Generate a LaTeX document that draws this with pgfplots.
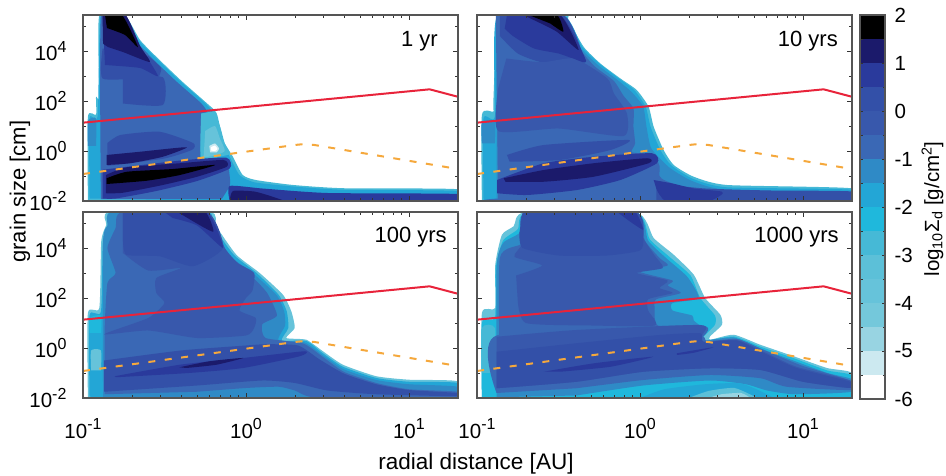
\documentclass[border=0pt]{standalone}
\usepackage{pgfplots}
\pgfplotsset{compat=1.18}
\usepackage{fontspec}
\setmainfont{Liberation Sans}
\definecolor{c15}{HTML}{000000}
\definecolor{c14}{HTML}{1B1A6B}
\definecolor{c13}{HTML}{2A3A9C}
\definecolor{c12}{HTML}{3350A8}
\definecolor{c11}{HTML}{3858AC}
\definecolor{c10}{HTML}{3A68B5}
\definecolor{c9}{HTML}{2F8AC6}
\definecolor{c8}{HTML}{23A6D6}
\definecolor{c7}{HTML}{1FB8DC}
\definecolor{c6}{HTML}{46B9D6}
\definecolor{c5}{HTML}{5CC0D8}
\definecolor{c4}{HTML}{66C3DA}
\definecolor{c3}{HTML}{74C8DB}
\definecolor{c2}{HTML}{98D4E2}
\definecolor{c1}{HTML}{CCE9F0}
\definecolor{framec}{HTML}{555555}
\definecolor{redl}{HTML}{E8233A}
\definecolor{orl}{HTML}{F5A83C}
\newcommand{\poly}[2]{\addplot[fill=#1,draw=none,forget plot,smooth,tension=0.35] coordinates {#2} --cycle;}
\newcommand{\curves}{%
\addplot[redl,line width=2pt,forget plot] coordinates {(-1,1.133)(1.127,2.467)(1.3,2.17)};
\addplot[orl,line width=2pt,dash pattern=on 7pt off 9.5pt,forget plot] coordinates {(-1,-0.92)(0.30,0.24)(0.36,0.28)(0.42,0.24)(1.3,-0.72)};
}
\newcommand{\sptxt}[1]{\raisebox{0.42em}{\fontsize{16}{16}\selectfont #1}}
\pgfplotsset{
 panel/.style={
  scale only axis,width=375pt,height=186pt,anchor=south west,
  xmin=-1,xmax=1.301,ymin=-2,ymax=5.44,
  axis on top,
  axis line style={framec,line width=1.1pt},
  tick style={black!80,line width=0.7pt},
  major tick length=5pt,minor tick length=3pt,
  tick align=inside,
  xtick={-1,0,1},
  minor xtick={-0.699,-0.523,-0.398,-0.301,-0.222,-0.155,-0.097,-0.046,0.301,0.477,0.602,0.699,0.778,0.845,0.903,0.954,1.301},
  ytick={-2,0,2,4},
  minor ytick={-1,1,3,5},
  xticklabels={10\sptxt{-1},10\sptxt{0},10\sptxt{1}},
  yticklabels={10\sptxt{-2},10\sptxt{0},10\sptxt{2},10\sptxt{4}},
  tick label style={font=\fontsize{20.5}{24}\selectfont},
  label style={font=\fontsize{22.5}{26}\selectfont},
  xticklabel style={yshift=-17pt},
  yticklabel style={xshift=-13pt},
 },
 noxl/.style={xticklabels={}},
 noyl/.style={yticklabels={}},
}
\newcommand{\plabel}[3]{\node[anchor=east,inner sep=0pt,font=\fontsize{22}{26}\selectfont] at (axis cs:#1,#2) {#3};}
\begin{document}
\begin{tikzpicture}[x=1pt,y=1pt]
\useasboundingbox (0,0) rectangle (946,476);
% ---------- 1 yr
\begin{axis}[panel,noxl,at={(83pt,275pt)},
  ylabel={grain size [cm]},y label style={at={(axis description cs:-0.168,0.05)},anchor=center,font=\fontsize{22}{26}\selectfont}]
\poly{c6}{(-0.97,-2)(-0.97,1.37)(-0.92,1.45)(-0.92,2.17)(-0.90,2.2)(-0.90,5.44)(-0.745,5.44)(-0.65,4.44)(-0.53,3.64)(-0.39,2.77)(-0.24,1.91)(-0.18,1.51)(-0.14,0.44)(-0.08,-0.23)(-0.02,-0.96)(0.06,-1.16)(0.29,-1.36)(0.6,-1.49)(1.3,-1.53)(1.3,-2)}
\poly{c8}{(-0.96,-1.9)(-0.96,1.3)(-0.91,1.4)(-0.89,5.44)(-0.755,5.44)(-0.66,4.44)(-0.54,3.64)(-0.40,2.77)(-0.25,1.91)(-0.20,1.5)(-0.16,0.44)(-0.10,-0.23)(-0.04,-0.96)(0.05,-1.25)(0.29,-1.42)(0.6,-1.55)(1.3,-1.6)(1.3,-2)(-0.1,-2)}
\poly{c9}{(-0.97,0.2)(-0.97,1.2)(-0.92,1.3)(-0.92,0.2)}
\poly{c10}{(-0.89,-1.93)(-0.89,5.44)(-0.775,5.44)(-0.68,4.44)(-0.565,3.64)(-0.425,2.77)(-0.275,1.91)(-0.235,1.5)(-0.27,1.0)(-0.28,0)(-0.27,-0.4)(-0.12,-0.52)(-0.10,-1.0)(-0.1,-1.4)(-0.15,-1.93)}
\poly{c6}{(-0.275,1.5)(-0.2,1.55)(-0.16,1.0)(-0.13,0.3)(-0.10,-0.1)(-0.14,-0.2)(-0.27,-0.3)(-0.28,0.5)}
\poly{c4}{(-0.25,0.8)(-0.19,1.0)(-0.16,0.5)(-0.13,0)(-0.2,-0.2)(-0.26,-0.25)}
\poly{c1}{(-0.225,0.2)(-0.19,0.3)(-0.165,0.1)(-0.18,-0.05)(-0.22,-0.05)}
\poly{white}{(-0.215,0.15)(-0.19,0.22)(-0.175,0.08)(-0.19,0)(-0.215,0.02)}
% top wedge
\poly{c12}{(-0.88,4.1)(-0.88,2.9)(-0.65,2.9)(-0.56,2.7)(-0.52,3.3)(-0.60,3.8)}
\poly{c13}{(-0.88,5.44)(-0.74,5.44)(-0.65,4.2)(-0.54,3.0)(-0.65,3.32)(-0.865,3.44)}
\poly{c14}{(-0.88,5.44)(-0.74,5.44)(-0.65,4.2)(-0.59,3.56)(-0.755,3.96)(-0.847,4.16)(-0.877,4.3)}
\poly{c15}{(-0.865,5.44)(-0.76,5.44)(-0.663,4.16)(-0.742,4.64)(-0.853,4.92)}
\poly{c12}{(-0.755,2.92)(-0.51,2.95)(-0.51,1.84)(-0.755,1.9)}
% lower bands
\poly{c12}{(-0.85,0.32)(-0.77,0.64)(-0.53,0.77)(-0.325,0.32)(-0.33,0.05)(-0.5,-0.3)(-0.85,-0.6)}
\poly{c14}{(-0.855,-0.16)(-0.65,-0.03)(-0.364,0.15)(-0.51,-0.23)(-0.71,-0.49)(-0.855,-0.56)}
\poly{c13}{(-0.88,-0.75)(-0.4,-0.38)(-0.12,-0.27)(-0.10,-0.7)(-0.3,-1.2)(-0.55,-1.6)(-0.8,-1.9)(-0.88,-1.9)}
\poly{c14}{(-0.859,-0.96)(-0.73,-0.65)(-0.405,-0.49)(-0.139,-0.36)(-0.118,-0.63)(-0.30,-1.03)(-0.51,-1.36)(-0.755,-1.67)(-0.859,-1.69)}
\poly{c15}{(-0.855,-1.09)(-0.73,-0.83)(-0.448,-0.72)(-0.19,-0.56)(-0.405,-0.96)(-0.61,-1.19)(-0.855,-1.32)}
% right strip
\poly{c13}{(-0.10,-2)(-0.10,-1.4)(0.1,-1.5)(0.5,-1.68)(1.3,-1.72)(1.3,-2)}
\poly{c14}{(-0.10,-2)(-0.08,-1.6)(0.05,-1.62)(0.15,-1.8)(0.24,-2)}
\curves
\plabel{1.178}{4.4}{1 yr}
\end{axis}
% ---------- 10 yrs
\begin{axis}[panel,noxl,noyl,at={(477pt,275pt)}]
\poly{c6}{(-0.97,-2)(-0.97,1.44)(-0.9,1.57)(-0.9,1.9)(-0.88,5.37)(-0.88,5.44)(-0.46,5.44)(-0.44,5.24)(-0.346,4.17)(-0.243,3.5)(-0.12,2.9)(-0.02,2.44)(0.053,1.77)(0.084,0.97)(0.145,0.04)(0.207,-0.56)(0.33,-1.03)(0.534,-1.36)(1.294,-1.49)(1.3,-2)}
\poly{c8}{(-0.96,-1.95)(-0.96,1.3)(-0.89,1.4)(-0.875,5.44)(-0.47,5.44)(-0.355,4.17)(-0.25,3.5)(-0.13,2.9)(-0.035,2.44)(0.035,1.77)(0.065,0.97)(0.125,0.04)(0.19,-0.56)(0.32,-1.1)(0.53,-1.45)(1.3,-1.55)(1.3,-2)(-0.88,-2)}
\poly{c9}{(-0.97,0.3)(-0.97,1.15)(-0.89,1.2)(-0.89,0.3)}
\poly{c9}{(-0.88,5.44)(-0.48,5.44)(-0.37,4.17)(-0.26,3.45)(-0.14,2.85)(-0.05,2.35)(0.02,1.77)(0.04,0.97)(0.07,0.1)(0.18,-0.66)(0.32,-1.2)(0.53,-1.55)(1.3,-1.65)(1.3,-2)(-0.88,-2)}
\poly{c10}{(-0.885,5.44)(-0.49,5.44)(-0.38,4.17)(-0.28,3.4)(-0.16,2.8)(-0.1,2.2)(-0.04,1.7)(-0.04,0.97)(-0.03,0.3)(-0.05,-0.05)(0.08,-0.15)(0.12,-0.6)(0.12,-1.0)(0.16,-1.2)(0.35,-1.6)(0.65,-1.75)(1.3,-1.8)(1.3,-2)(-0.87,-2)(-0.87,-1.9)}
\poly{c12}{(-0.86,5.44)(-0.47,5.44)(-0.36,4.0)(-0.42,3.7)(-0.6,3.55)(-0.75,3.9)(-0.86,4.6)}
\poly{c11}{(-0.82,3.7)(-0.6,3.55)(-0.4,3.7)(-0.2,2.9)(-0.16,2.3)(-0.08,1.5)(-0.1,0.6)(-0.5,0.9)(-0.87,0.8)(-0.87,2.5)}
\poly{c13}{(-0.816,5.44)(-0.49,5.44)(-0.33,3.6)(-0.41,3.7)(-0.5,3.9)(-0.65,4.1)(-0.78,4.6)(-0.83,4.9)}
\poly{c14}{(-0.714,5.44)(-0.49,5.44)(-0.376,4.04)(-0.51,4.77)(-0.652,5.24)}
\poly{c15}{(-0.683,5.44)(-0.51,5.44)(-0.47,4.77)(-0.55,5.1)}
\poly{c12}{(-0.816,-0.16)(-0.59,0.24)(-0.07,0.44)(-0.18,0.04)(-0.49,-0.36)(-0.8,-0.43)}
\poly{c13}{(-0.877,-1.16)(-0.59,-0.49)(-0.284,-0.23)(0.074,-0.09)(0.104,-0.49)(-0.12,-1.16)(-0.386,-1.56)(-0.693,-1.76)(-0.877,-1.69)}
\poly{c14}{(-0.836,-1.09)(-0.59,-0.76)(-0.284,-0.49)(0.043,-0.29)(0.053,-0.49)(-0.284,-1.03)(-0.59,-1.23)(-0.826,-1.23)}
\poly{c12}{(0.1,-1.3)(0.4,-1.5)(0.8,-1.58)(1.3,-1.62)(1.3,-2)(0.1,-2)}
\poly{c13}{(0.084,-1.16)(0.2,-1.3)(0.33,-1.5)(0.5,-1.62)(0.5,-1.75)(0.42,-2)(0.16,-2)(0.1,-1.5)}
\curves
\plabel{1.215}{4.4}{10 yrs}
\end{axis}
% ---------- 100 yrs
\begin{axis}[panel,at={(83pt,78pt)},
  xlabel={radial distance [AU]},x label style={at={(axis description cs:1.048,-0.355)},anchor=center}]
\poly{c4}{(-0.97,-2)(-0.97,1.4)(-0.9,1.6)(-0.888,4.27)(-0.857,4.93)(-0.836,5.44)(-0.223,5.44)(-0.182,4.87)(-0.059,3.73)(0.084,3)(0.227,2.13)(0.278,1.47)(0.299,0.8)(0.247,0.4)(0.37,0.33)(0.472,-0.13)(0.595,-0.67)(0.8,-1.13)(1.004,-1.27)(1.296,-1.33)(1.3,-2)}
\poly{c8}{(-0.96,-1.95)(-0.96,1.3)(-0.89,1.45)(-0.878,4.27)(-0.84,4.93)(-0.82,5.44)(-0.24,5.44)(-0.2,4.87)(-0.075,3.73)(0.065,3)(0.2,2.13)(0.25,1.47)(0.26,0.8)(0.22,0.3)(0.37,0.28)(0.47,-0.2)(0.595,-0.75)(0.8,-1.2)(1.0,-1.35)(1.3,-1.4)(1.3,-2)}
\poly{c7}{(-0.96,0.6)(-0.96,1.2)(-0.89,1.3)(-0.89,0.6)}
\poly{c4}{(-0.95,-0.9)(-0.95,-0.1)(-0.89,-0.1)(-0.89,-0.9)}
\poly{c9}{(-0.877,-1.98)(-0.877,4.2)(-0.85,4.9)(-0.82,5.44)(-0.25,5.44)(-0.21,4.8)(-0.09,3.65)(0.05,2.95)(0.19,2.1)(0.235,1.45)(0.24,0.9)(0.2,0.32)(0.36,0.22)(0.47,-0.28)(0.6,-0.85)(0.8,-1.28)(1.0,-1.45)(1.3,-1.55)(1.3,-2)}
\poly{c10}{(-0.867,-1.85)(-0.867,0.8)(-0.85,2.6)(-0.80,3.0)(-0.85,4.0)(-0.80,4.8)(-0.76,5.44)(-0.255,5.44)(-0.22,4.8)(-0.1,3.6)(0.03,2.9)(0.13,2.2)(0.19,1.3)(0.1,0.95)(0.12,0.4)(0.35,0.18)(0.47,-0.35)(0.6,-0.95)(0.8,-1.4)(1.0,-1.65)(1.3,-1.75)(1.3,-2)(0.45,-2)(0.3,-1.7)(0.2,-1.55)(0,-1.6)(-0.3,-1.75)}
\poly{c11}{(-0.755,5.44)(-0.24,5.44)(-0.13,4.0)(-0.05,3.4)(0.05,3.0)(0.04,2.3)(0,2.0)(-0.04,1.5)(0.06,1.2)(0.05,0.8)(0.0,0.5)(-0.3,0.4)(-0.6,0.7)(-0.87,0.55)(-0.6,1.2)(-0.5,1.8)(-0.55,2.2)(-0.55,2.8)(-0.4,3.2)(-0.6,3.1)(-0.755,3.8)}
\poly{c12}{(-0.755,5.44)(-0.243,5.44)(-0.141,4.0)(-0.325,3.27)(-0.53,3.67)(-0.734,3.73)(-0.755,4.4)}
\poly{c13}{(-0.5,5.44)(-0.24,5.44)(-0.14,4.0)(-0.3,4.9)(-0.45,5.2)}
\poly{c14}{(-0.42,5.44)(-0.25,5.44)(-0.2,4.65)(-0.32,5.05)}
\poly{c12}{(-0.87,-0.5)(-0.4,-0.1)(0,0.1)(0.12,0.15)(0.32,0.1)(0.45,-0.45)(0.6,-1.02)(0.8,-1.45)(1.0,-1.68)(1.3,-1.8)(1.3,-1.93)(0.8,-1.85)(0.5,-1.7)(0.3,-1.4)(0.1,-1.3)(-0.3,-1.5)(-0.87,-1.75)}
\poly{c13}{(-0.806,-1.13)(-0.407,-0.67)(-0.018,-0.4)(0.36,-0.13)(0.33,-0.33)(-0.018,-0.8)(-0.35,-1.0)(-0.795,-1.17)}
\poly{c14}{(-0.407,-0.77)(-0.223,-0.53)(-0.018,-0.4)(-0.182,-0.67)(-0.366,-0.8)}
\curves
\plabel{1.233}{4.44}{100 yrs}
\end{axis}
% ---------- 1000 yrs
\begin{axis}[panel,yticklabels={},at={(477pt,78pt)}]
\poly{c4}{(-0.97,-2)(-0.97,1.4)(-0.888,1.6)(-0.888,3.33)(-0.847,4.53)(-0.775,4.87)(-0.703,5.44)(-0.029,5.44)(0.084,4.4)(0.207,3.73)(0.33,2.93)(0.40,2)(0.493,1.33)(0.503,0.93)(0.431,0.47)(0.431,0.33)(0.575,0.53)(0.738,0.13)(0.943,-0.33)(1.147,-0.8)(1.3,-1)(1.3,-2)}
\poly{c7}{(-0.97,-2)(-0.97,1.0)(-0.89,1.2)(-0.885,3.2)(-0.84,4.3)(-0.75,4.75)(-0.69,5.44)(-0.03,5.44)(0.06,4.35)(0.18,3.65)(0.31,2.9)(0.37,2)(0.46,1.3)(0.46,0.93)(0.39,0.45)(0.40,0.28)(0.575,0.46)(0.74,0.05)(0.94,-0.4)(1.15,-0.9)(1.3,-1.1)(1.3,-2)}
\poly{c6}{(-0.97,-1.0)(-0.97,0.8)(-0.89,0.8)(-0.89,-1.0)}
\poly{c9}{(-0.88,-1.97)(-0.88,3.2)(-0.84,4.2)(-0.74,4.6)(-0.68,5.44)(-0.03,5.44)(0.05,4.3)(0.16,3.6)(0.29,2.85)(0.36,2.0)(0.2,1.8)(0.2,1.5)(0.32,1.3)(0.33,1.1)(0.38,0.8)(0.37,0.3)(0.575,0.42)(0.74,-0.02)(0.94,-0.5)(1.15,-1.0)(1.3,-1.25)(1.3,-1.75)(0.95,-1.85)(0.78,-1.7)(0.65,-1.45)(0.43,-1.3)(0.02,-1.5)(-0.39,-1.9)}
\poly{c10}{(-0.86,-1.0)(-0.86,3.6)(-0.72,4.2)(-0.7,5.44)(-0.03,5.44)(0.03,4.3)(0.12,3.6)(0.17,3.3)(0.0,3.05)(0.2,2.7)(0.17,2.5)(0.25,2.2)(0.1,1.95)(0.09,1.6)(0.11,0.9)(0.38,0.5)(0.38,0.1)(0.0,0.0)(-0.86,-0.2)}
\poly{c10}{(-0.88,-1.8)(-0.88,0.5)(0.37,0.9)(0.37,0.27)(0.595,0.36)(0.76,-0.08)(1.0,-0.72)(1.29,-1.3)(1.3,-1.68)(0.9,-1.55)(0.74,-1.21)(0.43,-1.08)(0.02,-1.28)(-0.39,-1.61)}
\poly{c11}{(-0.76,2.9)(-0.6,3.3)(-0.77,3.65)(-0.72,4.2)(-0.7,5.44)(-0.03,5.44)(0.02,4.4)(0.09,3.7)(0.14,3.2)(-0.02,3.0)(0.17,2.7)(0.12,2.4)(0.2,2.2)(0.05,1.95)(0.05,1.5)(0.09,0.9)(-0.3,0.9)(-0.7,1.0)(-0.75,1.9)}
\poly{c12}{(-0.72,5.44)(-0.03,5.44)(0.02,4.4)(0.0,3.9)(-0.2,3.7)(-0.5,3.7)(-0.72,4.0)(-0.74,4.6)}
\poly{c13}{(-0.14,5.44)(-0.029,5.44)(0.02,4.73)(-0.07,5.1)}
\poly{c11}{(-0.88,0.45)(-0.39,0.72)(0.37,0.92)(0.38,0.5)(0.37,0.25)(0.595,0.32)(0.76,-0.15)(0.96,-0.75)(1.29,-1.3)(1.29,-1.6)(1,-1.35)(0.74,-0.88)(0.43,-0.81)(0.02,-0.95)(-0.39,-1.35)(-0.88,-1.61)}
\poly{c12}{(-0.88,-0.15)(-0.39,0.19)(0.12,0.52)(0.37,0.59)(0.39,0.25)(0.595,0.3)(0.76,-0.2)(0.96,-0.8)(1.29,-1.35)(1.29,-1.6)(1,-1.35)(0.74,-0.88)(0.43,-0.81)(0.02,-0.95)(-0.39,-1.35)(-0.88,-1.61)}
\poly{c13}{(-0.59,-0.95)(-0.28,-0.61)(0.08,-0.35)(-0.18,-0.75)(-0.49,-0.95)}
\poly{c13}{(0.227,-0.21)(0.45,0.03)(0.33,-0.19)(0.227,-0.28)}
\poly{c8}{(0.0,-2)(0.15,-1.65)(0.4,-1.45)(0.62,-1.42)(0.78,-1.85)(0.82,-2)}
\poly{c5}{(0.3,-2)(0.42,-1.72)(0.58,-1.6)(0.72,-2)}
\poly{c2}{(0.42,-2)(0.5,-1.85)(0.62,-1.8)(0.68,-2)}
\curves
\plabel{1.221}{4.44}{1000 yrs}
\end{axis}
% ---------- colour bar
\begin{axis}[scale only axis,width=25pt,height=384pt,anchor=south west,at={(860pt,77pt)},
  xmin=0,xmax=1,ymin=-6,ymax=2,xtick=\empty,
  axis on top,
  axis line style={framec,line width=1.1pt},
  tick style={black!80,line width=0.7pt},
  major tick length=3pt,minor tick length=2.5pt,tick align=inside,
  ytick={-6,-5,-4,-3,-2,-1,0,1,2},
  yticklabels={-6,-5,-4,-3,-2,-1,0,1,2},
  minor ytick={-5.5,-4.5,-3.5,-2.5,-1.5,-0.5,0.5,1.5},
  yticklabel pos=right,
  yticklabel style={anchor=west,xshift=6pt},
  tick label style={font=\fontsize{20.5}{24}\selectfont},
  ylabel={log\textsubscript{10}Σ\textsubscript{d} [g/cm\textsuperscript{2}]},
  y label style={at={(axis description cs:2.9,0.495)},anchor=center,rotate=0,font=\fontsize{20.5}{24}\selectfont}]
\addplot[fill=c1,draw=none] coordinates {(0,-5.5)(1,-5.5)(1,-5)(0,-5)} --cycle;
\addplot[fill=c2,draw=none] coordinates {(0,-5)(1,-5)(1,-4.5)(0,-4.5)} --cycle;
\addplot[fill=c3,draw=none] coordinates {(0,-4.5)(1,-4.5)(1,-4)(0,-4)} --cycle;
\addplot[fill=c4,draw=none] coordinates {(0,-4)(1,-4)(1,-3.5)(0,-3.5)} --cycle;
\addplot[fill=c5,draw=none] coordinates {(0,-3.5)(1,-3.5)(1,-3)(0,-3)} --cycle;
\addplot[fill=c6,draw=none] coordinates {(0,-3)(1,-3)(1,-2.5)(0,-2.5)} --cycle;
\addplot[fill=c7,draw=none] coordinates {(0,-2.5)(1,-2.5)(1,-2)(0,-2)} --cycle;
\addplot[fill=c8,draw=none] coordinates {(0,-2)(1,-2)(1,-1.5)(0,-1.5)} --cycle;
\addplot[fill=c9,draw=none] coordinates {(0,-1.5)(1,-1.5)(1,-1)(0,-1)} --cycle;
\addplot[fill=c10,draw=none] coordinates {(0,-1)(1,-1)(1,-0.5)(0,-0.5)} --cycle;
\addplot[fill=c11,draw=none] coordinates {(0,-0.5)(1,-0.5)(1,0)(0,0)} --cycle;
\addplot[fill=c12,draw=none] coordinates {(0,0)(1,0)(1,0.5)(0,0.5)} --cycle;
\addplot[fill=c13,draw=none] coordinates {(0,0.5)(1,0.5)(1,1)(0,1)} --cycle;
\addplot[fill=c14,draw=none] coordinates {(0,1)(1,1)(1,1.5)(0,1.5)} --cycle;
\addplot[fill=c15,draw=none] coordinates {(0,1.5)(1,1.5)(1,2)(0,2)} --cycle;
\end{axis}
\end{tikzpicture}
\end{document}
